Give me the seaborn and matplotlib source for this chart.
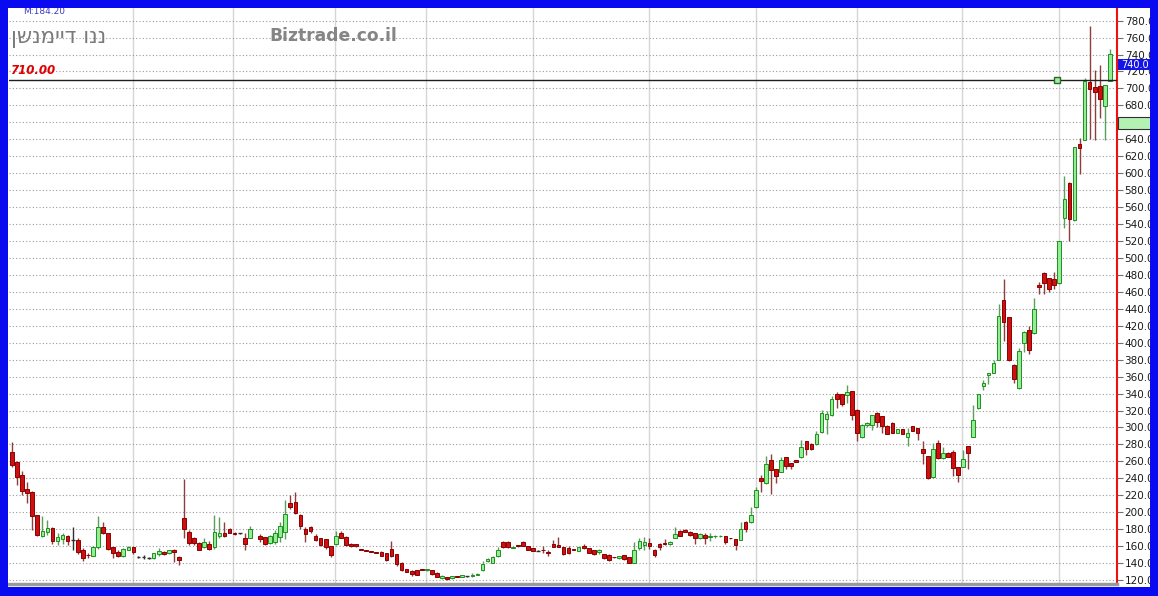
import numpy as np
import pandas as pd
import seaborn as sns
import matplotlib.pyplot as plt
from matplotlib.patches import Rectangle
from matplotlib.transforms import blended_transform_factory

nan = np.nan

# daily candles, left to right (one gap = no trading)
opens = [
    271, 259, 244, 227, 224, 197, 172, 177, 181, 166,
    168, 172, 167, 167, 156, 150, 148, 159, 182, 176,
    159, 153, 148, 155, 159, 147.5, 147, 146, 146, 151,
    153, 152, 156, 147.5, 193, 177, 169, 164, 159, 163,
    159, 172, 176, 180, 176, 175, 169, 170, nan, 172,
    171, 164, 165, 171, 177, 211, 212, 197, 180, 183,
    172, 169, 168, 160, 163, 175, 171, 163, 163, 156.5,
    155, 153.8, 152.6, 153.4, 151.5, 157, 150.7, 140.4, 132.6, 131,
    131.8, 132.8, 131.8, 131.8, 128.6, 122, 123.9, 122, 124.2, 123.9,
    124.8, 125, 126.5, 132, 142, 140, 148, 165, 165, 158,
    160.5, 165, 160, 157.4, 154.8, 156, 152.4, 162.5, 161.3, 158.6,
    157.4, 155.6, 154.6, 160, 157.4, 155.4, 153, 150.7, 150, 147,
    145.6, 149.5, 146.8, 140, 158, 161, 164, 156, 163, 164,
    163, 170, 178, 179, 177, 175, 169, 173, 170.5, 171.5,
    171.5, 172, 169.5, 168, 167, 189, 189, 206, 240, 234,
    262, 251, 248, 265, 258, 261.6, 265, 284, 281, 280,
    295, 310, 315, 340, 339, 338, 343, 321, 289, 303,
    303, 317.5, 313.5, 302, 305.6, 293.8, 297.8, 289, 301.7, 299,
    275, 266, 241, 282, 263.6, 269.4, 271.4, 253, 253.7, 278,
    289, 323, 349, 362, 364.6, 379.6, 450, 430, 374, 346,
    400, 415, 411, 468, 482.6, 476, 474.8, 470, 547, 589,
    545, 635, 639, 708, 701.4, 703, 679, 709,
]
highs = [
    283, 260, 249, 236, 225, 197, 195, 191, 183, 175,
    176, 173, 183, 169, 158, 152, 160, 195, 188, 176,
    159, 156, 158, 160, 159, 148.5, 149, 147, 152, 158,
    154, 156, 157, 148, 239, 179, 171, 165, 169, 166,
    197, 194, 188, 181, 177, 175.5, 176, 184, nan, 174,
    171, 173, 179, 188, 214, 220, 224, 198, 182, 184,
    174, 170, 168, 160, 178, 178, 172, 164, 163, 157,
    155.5, 154, 153, 154, 152, 166, 151, 141, 133, 131.5,
    132, 133.5, 133, 132, 129, 125.5, 124, 125, 124.5, 126.5,
    125, 128, 128, 143, 145.5, 148, 159, 166, 165.5, 159,
    161, 165.5, 160.5, 157.5, 155, 160, 155, 167.6, 171, 159,
    160, 156, 159, 162, 158, 156, 157, 151, 151, 147.5,
    148.8, 150, 147, 165, 169, 171, 169, 156.5, 163.5, 168,
    166, 183, 178.5, 180, 177.5, 175.5, 175, 175, 175, 173,
    173, 172.5, 170, 168.5, 189, 189.5, 206, 230, 244, 266,
    269, 251.5, 265, 265.5, 258.5, 262, 285, 284.5, 281.5, 296,
    321, 320, 337, 342, 339.5, 350, 343.5, 321.5, 304, 306,
    315, 318.5, 314, 302.5, 306, 298, 298.5, 299, 302, 299.5,
    284, 266.5, 282, 285, 277, 271, 273, 253.5, 273, 278.5,
    326, 340, 355.5, 364, 380, 446, 475, 430.5, 374.5, 394,
    414, 419.6, 453, 471.6, 483, 476.5, 483.7, 520.4, 597, 589.5,
    631, 642, 712, 774, 721.5, 728, 704, 747,
]
lows = [
    253, 232, 220, 210.5, 179, 172, 171, 173, 163, 161,
    163, 161, 155, 151, 142, 146, 148, 157, 174, 155,
    146, 147, 147, 155, 151, 146, 145, 145, 145, 148,
    150, 151, 141, 138, 169, 161, 161, 155, 158, 155,
    157, 169, 171, 175, 173, 174, 156, 169, nan, 165,
    161, 163, 163, 165, 168, 204, 198, 180, 165, 176,
    166, 160, 157, 147, 161, 169, 160, 159, 159, 155,
    154, 153, 151.5, 148, 143, 147, 136, 131, 129.5, 125,
    125.5, 131.5, 131, 126.5, 123.5, 121.5, 120.5, 121.5, 123.5, 123.5,
    124, 123, 126, 131, 141, 139.5, 147, 158, 158, 157.5,
    159.5, 160, 156, 154.5, 154.4, 152, 148, 159, 158.5, 149,
    151, 155, 154, 157, 152, 150, 151, 145, 142, 146.3,
    145, 144, 140, 140, 155, 155, 157, 147, 155, 161,
    161, 170, 171.5, 176.5, 172.5, 162.5, 168, 163, 166, 170,
    170.5, 162, 168.5, 156, 167, 177, 187.5, 205, 224, 233,
    222, 235, 247, 251, 251, 259, 264, 267, 273, 279,
    294, 292, 314, 323, 325, 329, 309, 284, 288, 301,
    297, 301, 294, 292, 293.5, 293.5, 292, 278, 296, 285,
    257, 239, 240.5, 263, 263, 265, 243, 236, 253, 251,
    288.5, 322, 344.4, 351, 364, 379, 402, 378, 352, 345.5,
    389.6, 387, 410.5, 457, 457, 460, 463, 469.5, 535, 520.4,
    544, 599, 639, 640, 639, 665, 639, 709,
]
closes = [
    256, 242, 225, 223, 196, 173, 178, 181, 166, 171,
    173, 166, 167, 153, 146, 149, 159, 183, 176, 157,
    152, 148, 157, 158.6, 153, 147.5, 147, 146, 151.5, 154.6,
    151, 155.4, 153, 143.6, 180, 164, 164, 156, 165, 157,
    177, 176, 172, 176, 174.5, 175, 163, 180, nan, 168,
    163, 172, 176, 184, 198, 206.5, 199, 184, 174, 178,
    167, 161, 159, 149.5, 172, 170, 161, 160, 160, 155.5,
    154.6, 153.4, 152.2, 148.3, 143.6, 148, 139, 131.8, 129.8, 127,
    125.9, 132.4, 132.4, 127, 123.9, 124.7, 120.8, 124.7, 123.7, 125.9,
    124.5, 126, 127.5, 139, 145, 147.5, 156, 159, 159, 159,
    160, 160, 156, 154.6, 154.6, 155, 152, 159.3, 158.6, 150.7,
    152.2, 155.2, 158.6, 158, 152.2, 150.7, 155, 145.6, 144, 146.7,
    148.3, 144.4, 140.4, 155, 166, 165, 160, 149.5, 158.6, 162,
    165, 174, 172, 177, 173, 169, 174, 169, 171.5, 172.5,
    172.5, 165, 169, 161, 180, 180, 197, 226, 237, 257,
    250, 243, 262, 254, 254.5, 259.6, 277, 274, 275, 292,
    317, 316, 333, 334, 328, 341.5, 315, 293, 303, 305,
    315, 306, 302, 292.3, 293.8, 297.8, 292.3, 294, 296.2, 293.8,
    270, 240, 274, 263.6, 269.4, 265.5, 252, 244, 262.4, 269.4,
    309, 340, 352.8, 364, 376.5, 431.5, 424, 380, 357, 390.6,
    413, 391.4, 439.4, 466, 470.8, 463, 468, 520, 570, 545.6,
    630.6, 629.4, 709, 699, 696.2, 687, 704, 741,
]

# month separators (candle index) and price levels
month_starts = [23.9, 43.7, 63.8, 81.9, 103, 125.9, 147, 167, 187.7, 206.9]
price_ticks = list(range(120, 781, 20))
ref_level = 710.00
last_price = 740.0

df = pd.DataFrame({'open': opens, 'high': highs, 'low': lows, 'close': closes})
df['x'] = np.arange(len(df))
df = df.dropna()

W, H = 1158, 596
sns.set_style("white")
plt.rcParams['font.family'] = ['DejaVu Sans']

fig = plt.figure(figsize=(W / 100, H / 100), dpi=100, facecolor='white')


def fx(px):
    return px / W


def fy(py):
    return 1 - py / H


ax_l, ax_r, ax_t, ax_b = 9, 1117, 8, 584
ax = fig.add_axes([fx(ax_l), fy(ax_b), fx(ax_r - ax_l), (ax_b - ax_t) / H])
ax.set_facecolor('white')

ax.set_xlim(-0.59, 218.4)
ax.set_ylim(115.3, 794.9)

# grid
ax.set_yticks(price_ticks)
ax.set_xticks(month_starts)
ax.grid(axis='y', linestyle=(0, (1, 2)), color='#9a9a9a', linewidth=0.8)
ax.grid(axis='x', linestyle='-', color='#d6d6d6', linewidth=1)
ax.set_axisbelow(True)

# candles
diff = df['close'] - df['open']
up = diff > 0.3
down = diff < -0.3
flat = ~(up | down)

body_w = 0.72
for mask, fill, edge, wick in [(up, '#93ee93', '#1f8f1f', '#5a9f5a'),
                               (down, '#cf1010', '#8b0000', '#8e3e3e')]:
    d = df[mask]
    ax.vlines(d['x'], d['low'], d['high'], colors=wick, linewidth=1, zorder=2)
    bottom = np.minimum(d['open'], d['close'])
    height = np.maximum((d['close'] - d['open']).abs(), 0.9)
    ax.bar(d['x'], height, bottom=bottom, width=body_w, color=fill,
           edgecolor=edge, linewidth=0.7, zorder=3)
d = df[flat]
ax.vlines(d['x'], d['low'], d['high'], colors='#303030', linewidth=1, zorder=2)
ax.hlines(d['close'], d['x'] - 0.38, d['x'] + 0.38, colors='#303030', linewidth=1, zorder=3)

# reference line
ax.axhline(ref_level, color='#202020', linewidth=1, zorder=4)
ax.plot([206.5], [ref_level], marker='s', markersize=5, markerfacecolor='#a8e8a8',
        markeredgecolor='#1f6f1f', markeredgewidth=1, zorder=5)
trans = blended_transform_factory(ax.transAxes, ax.transData)
ax.text(0.001, ref_level + 3.5, f"{ref_level:.2f}", transform=trans, color='#e00000',
        fontsize=8.5, fontweight='bold', fontstyle='italic', va='bottom', ha='left')

# axes look
ax.yaxis.tick_right()
ax.set_yticklabels([f"{v:.1f}" for v in price_ticks])
ax.tick_params(axis='y', direction='out', length=4, width=0.8, color='#707070',
               pad=1.5, labelsize=7.5, labelcolor='#1a1a1a')
ax.tick_params(axis='x', length=0, labelbottom=False)
for s in ['left', 'top']:
    ax.spines[s].set_visible(False)
ax.spines['right'].set_color('#ee1111')
ax.spines['right'].set_linewidth(1.5)
ax.spines['bottom'].set_color('#9a9a9a')
ax.spines['bottom'].set_linewidth(2.5)

# last price box and side marker
fig.patches.append(Rectangle((fx(1118), fy(70)), fx(40), 11 / H, transform=fig.transFigure,
                             facecolor='#1414e6', edgecolor='none', zorder=6))
fig.text(fx(1121), fy(64.5), f"{last_price:.1f}", color='white', fontsize=7,
         va='center', ha='left', zorder=7)
fig.patches.append(Rectangle((fx(1118), fy(129)), fx(40), 12 / H, transform=fig.transFigure,
                             facecolor='#b4f2b4', edgecolor='#303030', linewidth=0.8, zorder=6))

# header texts
fig.text(fx(23), fy(11.5), "M:184.20", color='#3a3ac8', fontsize=6.5, va='center', ha='left')
fig.text(fx(11), fy(37.5), "ננו דיימנשן"[::-1], color='#7a7a7a', fontsize=15.5,
         va='center', ha='left')
fig.text(fx(269), fy(36), "Biztrade.co.il", color='#858585', fontsize=12.3,
         fontweight='bold', va='center', ha='left')

# blue frame
blue = '#0a0af0'
for (x0, y0, w, h) in [(0, 0, W, 8), (0, 587, W, 9), (0, 0, 8, H), (1150, 0, 8, H)]:
    fig.patches.append(Rectangle((fx(x0), fy(y0 + h)), fx(w), h / H,
                                 transform=fig.transFigure, facecolor=blue,
                                 edgecolor='none', zorder=20))

fig.savefig('out.png', dpi=100, facecolor='white')
